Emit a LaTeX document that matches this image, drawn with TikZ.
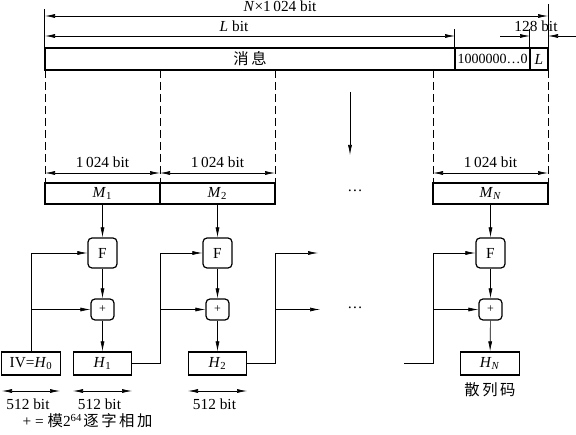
\documentclass[tikz,border=0pt]{standalone}
\usepackage{fontspec}
\setmainfont{Liberation Serif}
\newfontfamily\cjk{Noto Sans CJK SC}
\usetikzlibrary{arrows.meta,positioning}
\newcommand{\ital}[2]{\textit{#1}\textsubscript{#2}}
\newcommand{\labelfont}{\fontsize{11.5}{13}\selectfont}
\tikzset{
  msgbox/.style={draw, line width=0.9pt, inner sep=0pt, minimum height=16.5pt},
  blockbox/.style={draw, line width=0.9pt, inner sep=0pt,
    minimum width=86.25pt, minimum height=15.75pt},
  funcbox/.style={draw, line width=0.9pt, rounded corners=3pt, inner sep=0pt,
    minimum width=21.75pt, minimum height=22.5pt},
  addbox/.style={draw, line width=0.9pt, rounded corners=3pt, inner sep=0pt,
    minimum width=17.25pt, minimum height=15.75pt, font=\small},
  hashbox/.style={draw, line width=0.9pt, inner sep=0pt,
    minimum width=44pt, minimum height=17.25pt},
  arrow/.style={-{Latex[length=7.5pt,width=3pt]}, line width=0.5pt},
  dimarrow/.style={{Latex[length=7.5pt,width=3pt]}-{Latex[length=7.5pt,width=3pt]},
    line width=0.5pt},
  guide/.style={dash pattern=on 6pt off 3pt, line width=0.5pt}
}

\begin{document}
\begin{tikzpicture}[x=0.75pt, y=-0.75pt, font=\labelfont]
  \useasboundingbox (0,0) rectangle (576,435);

  % padded message
  \node[msgbox, minimum width=307.5pt] (msg) at (250,59) {\cjk 消\,息};
  \node[msgbox, minimum width=56.25pt, font=\fontsize{10.5}{12}\selectfont]
    (pad) at (492.5,59) {1000000\ldots0};
  \node[msgbox, minimum width=13.5pt] (len) at (539,59) {\textit{L}};

  % lengths above the message
  \coordinate (nl) at (45,16);
  \coordinate (nr) at (548,16);
  \coordinate (ll) at (45,36);
  \coordinate (lr) at (455,36);
  \coordinate (ka) at (500,36);
  \coordinate (kb) at (530,36);
  \coordinate (kc) at (576,36);
  \coordinate (kd) at (548,36);
  \draw[line width=0.5pt] (msg.north west) -- ++(0,-38);
  \draw[line width=0.5pt] (len.north east) -- ++(0,-43);
  \draw[line width=0.5pt] (pad.north west) -- ++(0,-18);
  \draw[line width=0.5pt] (len.north west) -- ++(0,-18);
  \draw[dimarrow] (nl) -- (nr);
  \draw[dimarrow] (ll) -- (lr);
  \draw[arrow] (ka) -- (kb);
  \draw[arrow] (kc) -- (kd);
  \node (ntext) at (280,6) {\textit{N}×1\,024 bit};
  \node (ltext) at (234,26) {\textit{L} bit};
  \node (ktext) at (536,26) {128 bit};

  % split into blocks
  \foreach \x in {45,160,275,433,548}
    \draw[guide] (\x,70) -- (\x,183);
  \coordinate (da) at (350,92);
  \coordinate (db) at (350,155);
  \draw[arrow] (da) -- (db);

  \node[blockbox] (M1) at (102.5,193.5) {\ital{M}{1}};
  \node[blockbox] (M2) at (217.5,193.5) {\ital{M}{2}};
  \node[blockbox] (MN) at (490.5,193.5) {\ital{M}{\textit{N}}};
  \node (mdots) at (355,191) {\ldots};

  \coordinate (w1a) at (45,173);  \coordinate (w1b) at (160,173);
  \coordinate (w2a) at (160,173); \coordinate (w2b) at (275,173);
  \coordinate (wNa) at (433,173); \coordinate (wNb) at (548,173);
  \draw[dimarrow] (w1a) -- (w1b);
  \draw[dimarrow] (w2a) -- (w2b);
  \draw[dimarrow] (wNa) -- (wNb);
  \node (b1) at (102.5,162) {1\,024 bit};
  \node (b2) at (217.5,162) {1\,024 bit};
  \node (bN) at (490.5,162) {1\,024 bit};

  % compression stages
  \node[funcbox] (F1) at (102.5,253) {F};
  \node[funcbox] (F2) at (217.5,253) {F};
  \node[funcbox] (FN) at (490.5,253) {F};
  \node[addbox] (P1) at (102.5,309.5) {+};
  \node[addbox] (P2) at (217.5,309.5) {+};
  \node[addbox] (PN) at (490.5,309.5) {+};

  \node[hashbox] (H0) at (31,363.5) {IV=\ital{H}{0}};
  \node[hashbox] (H1) at (102.5,363.5) {\ital{H}{1}};
  \node[hashbox] (H2) at (217.5,363.5) {\ital{H}{2}};
  \node[hashbox] (HN) at (490,363.5) {\ital{H}{\textit{N}}};
  \node (pdots) at (355,308) {\ldots};

  \foreach \i in {1,2,N} {
    \draw[arrow] (M\i) -- (F\i);
    \draw[arrow] (F\i) -- (P\i);
    \draw[arrow] (P\i) -- (H\i);
  }

  % chaining
  \draw[arrow] (H0.north) |- (F1.west);
  \draw[arrow] (H0.north |- P1) -- (P1.west);

  \coordinate (j1) at (160,363.5);
  \draw[arrow] (H1.east) -- (j1) |- (F2.west);
  \draw[arrow] (j1 |- P2) -- (P2.west);

  \coordinate (j2) at (275,363.5);
  \coordinate (e1) at (318,253);
  \coordinate (e2) at (320,309.5);
  \draw[arrow] (H2.east) -- (j2) |- (e1);
  \draw[arrow] (j2 |- e2) -- (e2);

  \coordinate (hin) at (404,363.5);
  \coordinate (jN) at (433,363.5);
  \draw[arrow] (hin) -- (jN) |- (FN.west);
  \draw[arrow] (jN |- PN) -- (PN.west);

  \node[below=2pt of HN] (hcode) {\cjk 散\,列\,码};

  % chaining value widths
  \foreach \n/\a/\b in {0/2/60, 1/73/132, 2/188/247} {
    \coordinate (s\n a) at (\a,391);
    \coordinate (s\n b) at (\b,391);
    \draw[dimarrow] (s\n a) -- (s\n b);
    \node (s\n) at ({(\a+\b)/2-3},404) {512 bit};
  }

  \node[anchor=west] (note) at (18,421)
    {+ = \hbox{\cjk 模}2\textsuperscript{64}\kern1pt\hbox{\cjk 逐\,字\,相\,加}};
\end{tikzpicture}
\end{document}
